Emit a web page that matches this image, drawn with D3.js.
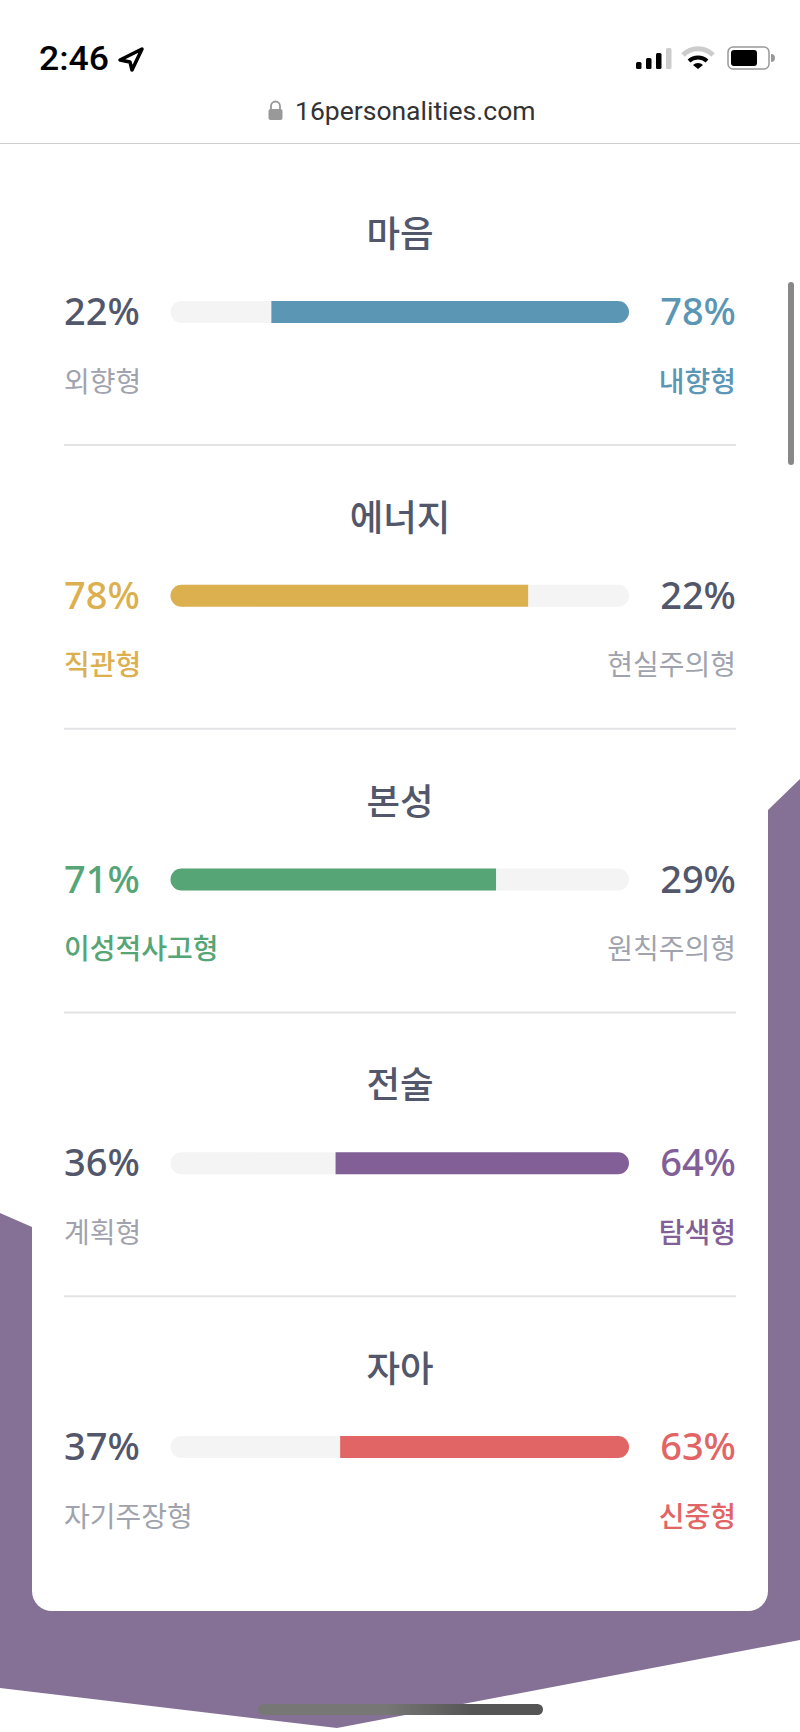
<!DOCTYPE html>
<html><head><meta charset="utf-8">
<style>html,body{margin:0;padding:0;background:#fff;overflow:hidden}svg{display:block}</style>
<script src="https://cdn.jsdelivr.net/npm/d3@7/dist/d3.min.js"></script></head>
<body><script>
const titles=["마음","에너지","본성","전술","자아"];
const leftValues=[22,78,71,36,37];
const rightValues=[78,22,29,64,63];
const leftLabels=["외향형","직관형","이성적사고형","계획형","자기주장형"];
const rightLabels=["내향형","현실주의형","원칙주의형","탐색형","신중형"];
const winners=["right","left","left","right","right"];
const colors=["#5b97b5","#dcb04f","#55a577","#835f98","#e26565"];

const W=800,H=1732,dark="#52576b",gray="#a0a3ae",kr="'Noto Sans CJK KR','Noto Sans',sans-serif",num="'Noto Sans','Open Sans',sans-serif",ui="Roboto,'Liberation Sans',sans-serif";
const svg=d3.select("body").append("svg").attr("width",W).attr("height",H);
const g=svg.append("defs").append("linearGradient").attr("id","hb");
g.append("stop").attr("offset","0.45").attr("stop-color","#777776");
g.append("stop").attr("offset","0.75").attr("stop-color","#555555");
const line=d3.line();
svg.append("path").attr("d",line([[0,1213],[32,1227],[768,810],[800,779],[800,1640],[337,1728],[0,1688]])+"Z").attr("fill","#867196");
svg.append("rect").attr("x",32).attr("y",143).attr("width",736).attr("height",1468).attr("rx",20).attr("fill","#fff");
svg.append("rect").attr("x",32).attr("y",143).attr("width",736).attr("height",100).attr("fill","#fff");

const x=d3.scaleLinear().domain([0,100]).range([170.5,629]);
const rowY=d3.scaleLinear().domain([0,4]).range([312,1447]);
const rows=svg.selectAll("g.row").data(titles).join("g").attr("class","row").attr("transform",(d,i)=>`translate(0,${rowY(i)})`);
rows.append("text").attr("x",400).attr("y",-65).attr("text-anchor","middle").attr("font-family",kr).attr("font-weight",500).attr("font-size",36.5).attr("fill",dark).text(d=>d);
rows.append("rect").attr("x",x(0)).attr("y",-11).attr("width",x(100)-x(0)).attr("height",22).attr("rx",11).attr("fill","#f4f4f5");
rows.append("path").attr("fill",(d,i)=>colors[i]).attr("d",(d,i)=>{
  const r=11,y0=-11,y1=11;
  if(winners[i]==="right"){const a=x(leftValues[i]),b=x(100);return `M${a},${y0}H${b-r}A${r},${r} 0 0 1 ${b-r},${y1}H${a}Z`;}
  const a=x(0),b=x(leftValues[i]);return `M${b},${y0}H${a+r}A${r},${r} 0 0 0 ${a+r},${y1}H${b}Z`;
});
rows.append("text").attr("x",64).attr("y",13).attr("font-family",num).attr("font-weight",500).attr("font-size",38).attr("fill",(d,i)=>winners[i]==="left"?colors[i]:dark).text((d,i)=>leftValues[i]+"%");
rows.append("text").attr("x",736).attr("y",13).attr("text-anchor","end").attr("font-family",num).attr("font-weight",500).attr("font-size",38).attr("fill",(d,i)=>winners[i]==="right"?colors[i]:dark).text((d,i)=>rightValues[i]+"%");
rows.append("text").attr("x",64).attr("y",79.5).attr("font-family",kr).attr("font-size",28).attr("font-weight",(d,i)=>winners[i]==="left"?500:400).attr("fill",(d,i)=>winners[i]==="left"?colors[i]:gray).text((d,i)=>leftLabels[i]);
rows.append("text").attr("x",736).attr("y",79.5).attr("text-anchor","end").attr("font-family",kr).attr("font-size",28).attr("font-weight",(d,i)=>winners[i]==="right"?500:400).attr("fill",(d,i)=>winners[i]==="right"?colors[i]:gray).text((d,i)=>rightLabels[i]);
rows.filter((d,i)=>i<4).append("rect").attr("x",64).attr("y",132).attr("width",672).attr("height",2).attr("fill","#e3e3e6");

// browser chrome
svg.append("rect").attr("width",W).attr("height",143).attr("fill","#fff");
svg.append("rect").attr("y",143).attr("width",W).attr("height",1).attr("fill","#cfcfcf");
svg.append("text").attr("x",39).attr("y",70).attr("font-family",ui).attr("font-weight",500).attr("font-size",33).attr("textLength",70).attr("lengthAdjust","spacingAndGlyphs").attr("fill","#000").text("2:46");
svg.append("path").attr("d","M120,60L142,49L132,70L130,62Z").attr("fill","none").attr("stroke","#000").attr("stroke-width",3.5).attr("stroke-linejoin","round");
const sig=[7,11,16,21];
sig.forEach((h,i)=>svg.append("rect").attr("x",636+i*10).attr("y",69-h).attr("width",5.5).attr("height",h).attr("rx",1.5).attr("fill",i==3?"#ccc":"#000"));
const cx=698,cy=68;
svg.append("path").attr("d",`M${cx-15},${cy-13}A21,21 0 0 1 ${cx+15},${cy-13}`).attr("fill","none").attr("stroke","#ccc").attr("stroke-width",5);
svg.append("path").attr("d",`M${cx-9},${cy-7}A13,13 0 0 1 ${cx+9},${cy-7}`).attr("fill","none").attr("stroke","#000").attr("stroke-width",4);
svg.append("path").attr("d",`M${cx-5},${cy-3}L${cx},${cy+1}L${cx+5},${cy-3}A7,7 0 0 0 ${cx-5},${cy-3}Z`).attr("fill","#000");
svg.append("rect").attr("x",728).attr("y",47).attr("width",41).attr("height",22).attr("rx",5).attr("fill","none").attr("stroke","#999").attr("stroke-width",1.5);
svg.append("rect").attr("x",731).attr("y",50).attr("width",26).attr("height",16).attr("rx",3).attr("fill","#000");
svg.append("path").attr("d","M771,54A4,4 0 0 1 771,62Z").attr("fill","#999");
svg.append("rect").attr("x",268.5).attr("y",109).attr("width",14).attr("height",11).attr("rx",2).attr("fill","#999");
svg.append("path").attr("d","M271,110V106A4.5,4.5 0 0 1 280,106V110").attr("fill","none").attr("stroke","#999").attr("stroke-width",1.8);
svg.append("text").attr("x",295).attr("y",120).attr("font-family",ui).attr("font-size",26.5).attr("fill","#333").text("16personalities.com");
svg.append("rect").attr("x",788).attr("y",282).attr("width",6).attr("height",183).attr("rx",3).attr("fill","#888");
svg.append("rect").attr("x",258).attr("y",1704).attr("width",285).attr("height",11).attr("rx",5.5).attr("fill","url(#hb)");
</script></body></html>
